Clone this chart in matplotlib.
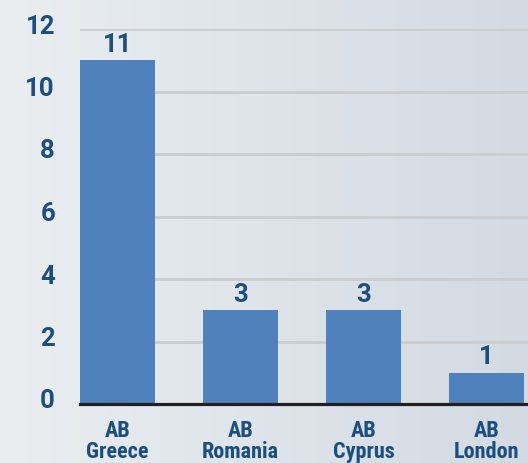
import matplotlib
matplotlib.use("Agg")
import matplotlib.pyplot as plt
import numpy as np
from matplotlib import font_manager as fm
from matplotlib.colors import LinearSegmentedColormap
from matplotlib.transforms import ScaledTranslation

categories = ["AB\nGreece", "AB\nRomania", "AB\nCyprus", "AB\nLondon"]
values = [11, 3, 3, 1]
yticks = [0, 2, 4, 6, 8, 10, 12]

names = {f.name for f in fm.fontManager.ttflist}

def pick(cands, default):
    for c in cands:
        if c in names:
            return c
    return default

cond_font = pick(["Roboto Condensed", "Archivo Narrow", "PT Sans Narrow",
                  "Fira Sans Condensed", "Encode Sans Condensed"], "DejaVu Sans")
num_font = pick(["Roboto", "Liberation Sans"], "DejaVu Sans")

text_color = "#1b4e81"
bar_color = "#4f81bd"

fig = plt.figure(figsize=(5.28, 4.63), dpi=100)

bg = fig.add_axes([0, 0, 1, 1], zorder=0)
cmap = LinearSegmentedColormap.from_list("bg", ["#eaeef1", "#d3dae2"])
grad = np.linspace(0, 1, 256).reshape(1, -1)
bg.imshow(grad, aspect="auto", cmap=cmap, extent=[0, 1, 0, 1])
bg.set_axis_off()

ax = fig.add_axes([80/528, 59/463, 448/528, 375/463], zorder=1)
ax.patch.set_visible(False)
x = np.arange(len(categories))
ax.bar(x, values, width=0.61, color=bar_color, zorder=2)
ax.set_xlim(-0.305, 3.337)
ax.set_ylim(0, 12)
ax.set_yticks(yticks)
ax.set_yticklabels([str(v) for v in yticks], fontsize=18.5, fontweight="bold",
                   color=text_color, family=num_font)
ax.set_xticks(x)
ax.set_xticklabels(categories, fontsize=16, fontweight="bold", color=text_color,
                   family=cond_font, fontstretch="condensed", linespacing=0.92)
ax.tick_params(axis="y", length=0, pad=18)
ax.tick_params(axis="x", length=0, pad=11.5)
shift = ScaledTranslation(0, 5/100, fig.dpi_scale_trans)
for lab in ax.get_yticklabels():
    lab.set_transform(lab.get_transform() + shift)
for v in yticks[1:]:
    ax.axhline(v, color="#cbcdcf", lw=2.1, zorder=1)
for s in ["top", "right", "left"]:
    ax.spines[s].set_visible(False)
ax.spines["bottom"].set_color("#231f20")
ax.spines["bottom"].set_linewidth(2.3)
ax.spines["bottom"].set_zorder(3)

for xi, v in zip(x, values):
    ax.annotate(str(v), (xi, v), xytext=(0, 6), textcoords="offset points",
                ha="center", va="baseline", fontsize=18.5, fontweight="bold",
                color=text_color, family=num_font)

fig.savefig("out.png", dpi=100)
